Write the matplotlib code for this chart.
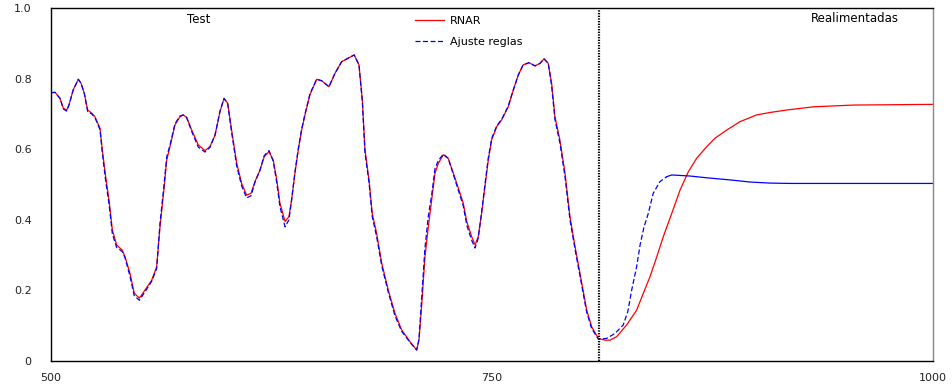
# RNAR vs rule fit, test + feedback
import numpy as np
import matplotlib.pyplot as plt

plt.rcParams['font.family'] = 'DejaVu Sans'
plt.rcParams['lines.linewidth'] = 0.9

# data
x_rnar = [500.0, 502.3, 505.1, 507.0, 508.9, 510.2, 512.6, 515.5, 517.0, 518.9,
          520.8, 523.1, 524.9, 527.8, 529.1, 531.0, 532.9, 534.8, 537.2, 540.4,
          542.0, 544.8, 547.2, 550.1, 553.3, 557.1, 559.9, 561.8, 564.2, 565.6,
          567.5, 570.3, 573.1, 575.0, 576.9, 579.8, 583.5, 587.3, 590.1, 593.0,
          595.8, 598.1, 600.2, 602.4, 605.3, 608.1, 610.9, 613.4, 615.6, 618.5,
          620.9, 623.6, 626.0, 628.0, 629.8, 632.7, 634.9, 636.4, 638.3, 640.2,
          642.1, 644.0, 646.8, 650.6, 653.4, 657.6, 661.0, 664.8, 668.5, 671.9,
          674.6, 676.5, 678.0, 680.3, 682.1, 684.6, 687.5, 691.2, 695.0, 698.8,
          703.5, 707.3, 708.6, 710.1, 712.0, 713.9, 715.8, 717.7, 719.6, 722.4,
          725.2, 728.1, 731.9, 733.7, 735.7, 738.5, 740.4, 742.2, 744.1, 746.0,
          747.9, 749.8, 752.7, 755.5, 759.2, 762.1, 764.9, 767.7, 771.0, 774.4,
          777.2, 779.5, 781.9, 783.8, 785.7, 788.5, 791.4, 794.2, 797.1, 799.9,
          803.7, 806.5, 810.3, 814.1, 816.9, 820.7, 826.3, 832.0, 835.8, 839.6,
          843.4, 847.1, 851.9, 856.6, 861.3, 866.0, 871.7, 876.4, 883.0, 890.6,
          900.0, 907.6, 917.1, 932.1, 954.8, 1000.0]
y_rnar = [0.760, 0.761, 0.744, 0.716, 0.711, 0.725, 0.768, 0.798, 0.787, 0.758,
          0.711, 0.702, 0.692, 0.659, 0.598, 0.522, 0.456, 0.371, 0.329, 0.314,
          0.295, 0.248, 0.192, 0.178, 0.201, 0.229, 0.267, 0.380, 0.494, 0.569,
          0.608, 0.669, 0.692, 0.697, 0.690, 0.654, 0.612, 0.596, 0.607, 0.640,
          0.706, 0.744, 0.730, 0.654, 0.560, 0.503, 0.470, 0.475, 0.508, 0.541,
          0.579, 0.593, 0.569, 0.513, 0.447, 0.395, 0.409, 0.456, 0.532, 0.598,
          0.654, 0.697, 0.754, 0.798, 0.794, 0.777, 0.815, 0.848, 0.858, 0.867,
          0.839, 0.739, 0.598, 0.513, 0.418, 0.362, 0.277, 0.201, 0.135, 0.088,
          0.055, 0.031, 0.059, 0.154, 0.295, 0.380, 0.456, 0.532, 0.560, 0.584,
          0.574, 0.532, 0.475, 0.447, 0.395, 0.352, 0.329, 0.352, 0.418, 0.494,
          0.569, 0.626, 0.664, 0.683, 0.720, 0.768, 0.810, 0.839, 0.845, 0.836,
          0.843, 0.856, 0.843, 0.787, 0.692, 0.626, 0.532, 0.409, 0.324, 0.248,
          0.144, 0.097, 0.064, 0.059, 0.059, 0.069, 0.102, 0.144, 0.192, 0.239,
          0.295, 0.352, 0.418, 0.484, 0.536, 0.574, 0.607, 0.631, 0.654, 0.678,
          0.697, 0.704, 0.711, 0.720, 0.725, 0.727]

x_ajuste = x_rnar[:123] + [815.0, 819.7, 824.4, 827.0, 829.2, 832.0, 834.0, 836.2,
                          838.6, 841.4, 845.2, 849.0, 851.9, 862.2, 871.7, 884.9,
                          896.3, 907.6, 919.0, 1000.0]
y_ajuste = [0.760, 0.761, 0.744, 0.714, 0.708, 0.725, 0.768, 0.798, 0.787, 0.758,
            0.706, 0.700, 0.690, 0.655, 0.590, 0.510, 0.445, 0.360, 0.322, 0.310,
            0.292, 0.240, 0.185, 0.172, 0.196, 0.226, 0.262, 0.390, 0.505, 0.578,
            0.612, 0.672, 0.694, 0.697, 0.690, 0.650, 0.606, 0.592, 0.605, 0.640,
            0.708, 0.744, 0.728, 0.648, 0.552, 0.496, 0.462, 0.468, 0.506, 0.541,
            0.582, 0.596, 0.566, 0.505, 0.437, 0.380, 0.400, 0.456, 0.535, 0.602,
            0.657, 0.700, 0.757, 0.798, 0.794, 0.777, 0.815, 0.848, 0.858, 0.867,
            0.839, 0.735, 0.590, 0.505, 0.410, 0.352, 0.270, 0.195, 0.128, 0.084,
            0.053, 0.031, 0.062, 0.175, 0.320, 0.410, 0.470, 0.545, 0.568, 0.586,
            0.574, 0.528, 0.468, 0.440, 0.385, 0.342, 0.320, 0.348, 0.420, 0.500,
            0.575, 0.630, 0.666, 0.685, 0.722, 0.768, 0.810, 0.839, 0.845, 0.836,
            0.843, 0.856, 0.843, 0.780, 0.684, 0.618, 0.522, 0.400, 0.316, 0.240,
            0.138, 0.092, 0.062,
            0.064, 0.078, 0.102, 0.140, 0.201, 0.267, 0.330, 0.380,
            0.418, 0.475, 0.508, 0.522, 0.527, 0.524, 0.519, 0.513,
            0.507, 0.504, 0.503, 0.503]

split_x = 810.5
xticks = [500, 750, 1000]
yticks = [0, 0.2, 0.4, 0.6, 0.8, 1.0]
ytick_labels = ['0', '0.2', '0.4', '0.6', '0.8', '1.0']

x_aj = np.array(x_ajuste)
y_aj = np.array(y_ajuste)
dashed = x_aj <= 849.0
solid = x_aj >= 849.0

fig = plt.figure(figsize=(9.53, 3.84), dpi=100)
ax = fig.add_axes([0.0535, 0.0599, 0.9255, 0.9193])

ax.plot(x_rnar, y_rnar, '-', color='#ff0000', lw=0.9, label='RNAR')
ax.plot(x_aj[dashed], y_aj[dashed], color='#0000ff', lw=0.9,
        linestyle=(0, (4, 2)), label='Ajuste reglas')
ax.plot(x_aj[solid], y_aj[solid], '-', color='#0000ff', lw=0.9)

ax.axvline(split_x, color='black', lw=1.6, linestyle=(0, (0.6, 0.6)))

ax.text(584, 0.966, 'Test', ha='center', va='center', fontsize=8.5)
ax.text(956, 0.970, 'Realimentadas', ha='center', va='center', fontsize=8.5)

ax.legend(loc='upper left', bbox_to_anchor=(0.413, 0.978), frameon=False,
          fontsize=8, handlelength=2.6, handletextpad=0.55, labelspacing=1.0,
          borderpad=0, borderaxespad=0)

ax.set_xlim(500, 1000)
ax.set_ylim(0, 1.0)
ax.set_xticks(xticks)
ax.set_yticks(yticks)
ax.set_yticklabels(ytick_labels)
ax.tick_params(axis='x', length=0, pad=9, labelsize=8, colors='#222222')
ax.tick_params(axis='y', length=0, pad=14, labelsize=8, colors='#222222')
for s in ['left', 'bottom', 'top']:
    ax.spines[s].set_linewidth(1.0)
    ax.spines[s].set_color('black')
ax.spines['right'].set_linewidth(1.0)
ax.spines['right'].set_color('#888888')

plt.savefig('out.png', dpi=100)
